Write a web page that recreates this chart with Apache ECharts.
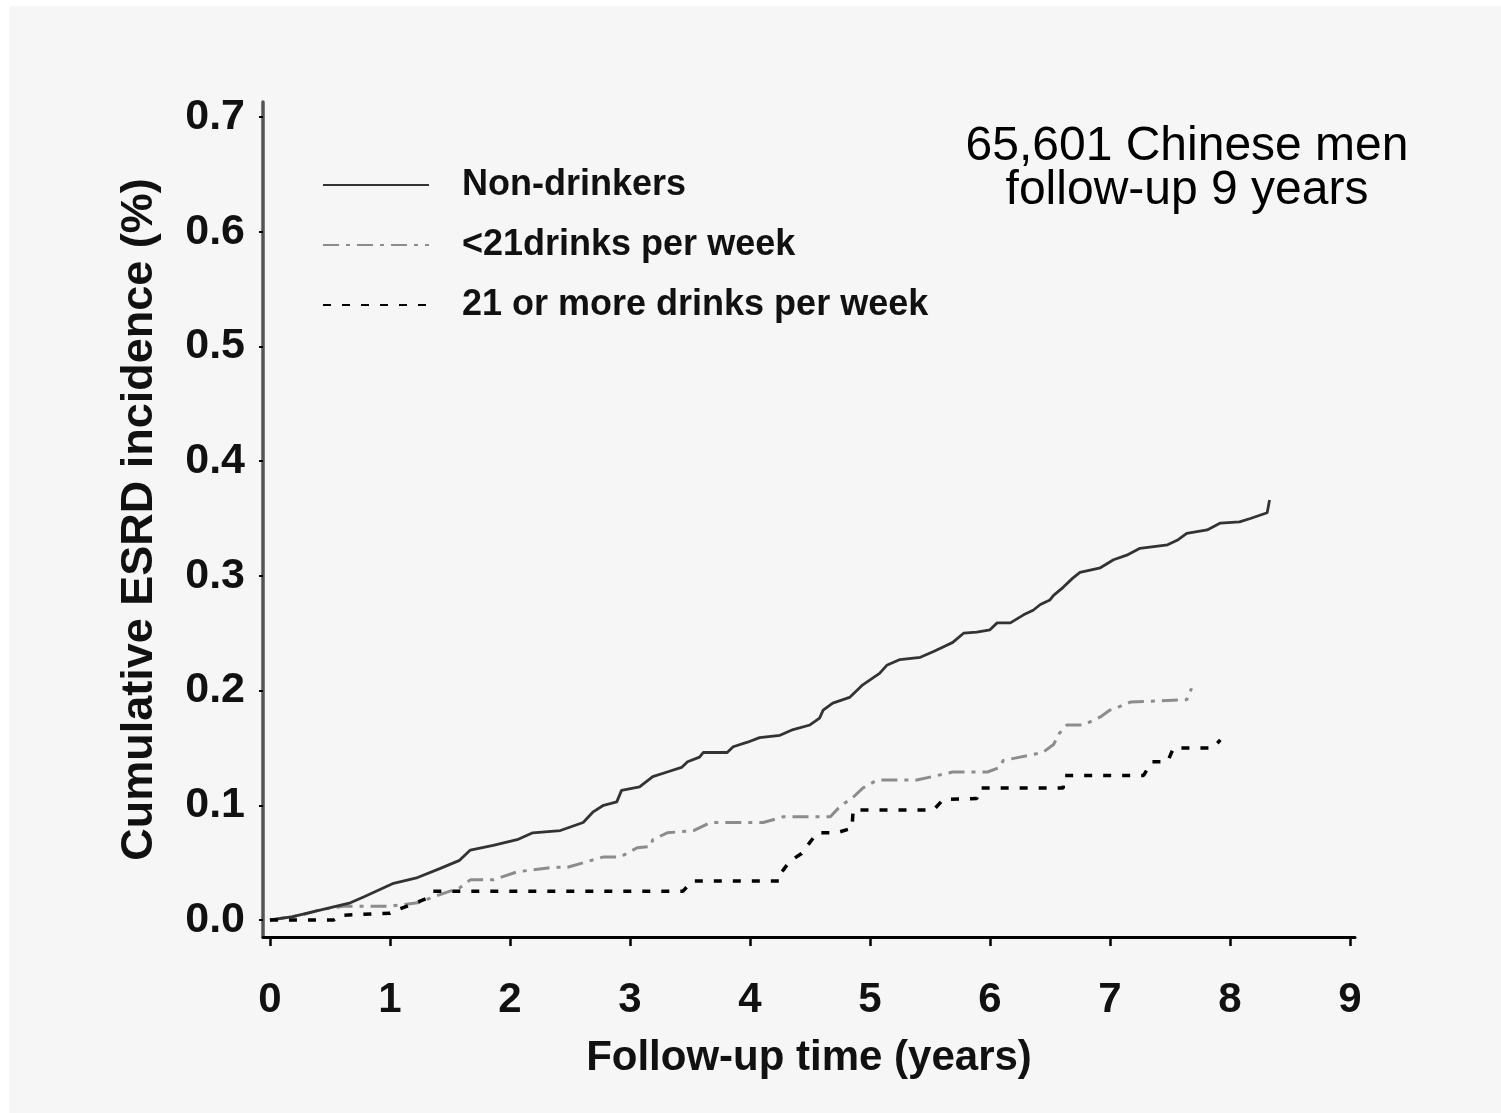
<!DOCTYPE html>
<html>
<head>
<meta charset="utf-8">
<script src="https://cdn.jsdelivr.net/npm/echarts@6/dist/echarts.min.js"></script>
<style>
html,body{margin:0;padding:0;background:#fff;}
#chart{position:absolute;left:0;top:0;width:1501px;height:1113px;
background:linear-gradient(#fff,#fff) top left/100% 6px no-repeat,linear-gradient(#fff,#fff) top left/9px 100% no-repeat,#f6f6f6;}
</style>
</head>
<body>
<div id="chart"></div>
<script>
// Tick labels
const xTicks = [0, 1, 2, 3, 4, 5, 6, 7, 8, 9];
const yTicks = [0, 0.1, 0.2, 0.3, 0.4, 0.5, 0.6, 0.7];
const seriesNames = ['Non-drinkers', '<21drinks per week', '21 or more drinks per week'];

// [years, cumulative incidence %]
const nonDrinkers = [
  [0,0],[0.19,0.003],[0.67,0.015],[0.78,0.020],[1.03,0.032],[1.23,0.037],[1.42,0.045],[1.58,0.052],
  [1.67,0.061],[1.86,0.065],[2.06,0.070],[2.19,0.076],[2.42,0.078],[2.61,0.085],[2.69,0.094],[2.78,0.100],
  [2.89,0.103],[2.93,0.113],[3.08,0.116],[3.19,0.125],[3.31,0.129],[3.43,0.133],[3.48,0.138],[3.58,0.142],
  [3.61,0.146],[3.81,0.146],[3.86,0.151],[3.98,0.155],[4.08,0.159],[4.25,0.161],[4.36,0.166],[4.50,0.170],
  [4.58,0.176],[4.61,0.183],[4.69,0.189],[4.83,0.194],[4.94,0.205],[5.08,0.215],[5.14,0.222],[5.25,0.227],
  [5.42,0.229],[5.53,0.234],[5.61,0.238],[5.69,0.242],[5.78,0.250],[5.89,0.251],[6.00,0.253],[6.06,0.259],
  [6.17,0.259],[6.28,0.266],[6.36,0.270],[6.42,0.275],[6.50,0.279],[6.53,0.283],[6.61,0.290],[6.69,0.298],
  [6.75,0.303],[6.92,0.307],[7.03,0.314],[7.14,0.318],[7.25,0.324],[7.48,0.327],[7.56,0.331],[7.64,0.337],
  [7.81,0.340],[7.92,0.346],[8.08,0.347],[8.17,0.350],[8.31,0.355],[8.33,0.366]
];
const lightDrinkers = [
  [0,0],[0.25,0.004],[0.42,0.009],[0.61,0.012],[1.00,0.012],[1.23,0.015],[1.36,0.020],[1.58,0.028],
  [1.67,0.035],[1.86,0.035],[2.06,0.042],[2.36,0.046],[2.48,0.046],[2.78,0.055],[2.92,0.055],[3.06,0.063],
  [3.17,0.064],[3.19,0.070],[3.31,0.076],[3.53,0.078],[3.67,0.085],[4.11,0.085],[4.28,0.090],[4.67,0.090],
  [4.75,0.099],[4.86,0.107],[4.94,0.115],[5.06,0.122],[5.39,0.122],[5.69,0.129],[5.98,0.129],[6.08,0.133],
  [6.11,0.139],[6.25,0.142],[6.44,0.146],[6.53,0.153],[6.58,0.163],[6.64,0.170],[6.78,0.170],[6.92,0.177],
  [7.00,0.183],[7.08,0.186],[7.17,0.190],[7.64,0.192],[7.68,0.202]
];
const heavyDrinkers = [
  [0,0],[0.53,0],[0.58,0.004],[1.00,0.006],[1.06,0.009],[1.17,0.013],[1.31,0.019],[1.36,0.025],
  [3.44,0.025],[3.52,0.034],[4.25,0.034],[4.26,0.041],[4.33,0.051],[4.43,0.058],[4.48,0.065],[4.56,0.076],
  [4.72,0.076],[4.85,0.080],[4.86,0.096],[5.53,0.096],[5.61,0.105],[5.89,0.106],[5.92,0.115],[6.61,0.115],
  [6.62,0.126],[7.28,0.126],[7.35,0.138],[7.48,0.138],[7.53,0.150],[7.86,0.150],[7.92,0.157]
];
const noteLines = ['65,601 Chinese men', 'follow-up 9 years'];

const FONT = '"Liberation Sans", Arial, sans-serif';
const chart = echarts.init(document.getElementById('chart'), null, {renderer: 'canvas'});
chart.setOption({
  animation: false,
  backgroundColor: 'transparent',
  textStyle: {fontFamily: FONT},
  grid: {left: 263, top: 102, width: 1092, height: 835, containLabel: false, outerBoundsMode: 'none'},
  legend: {
    orient: 'vertical', left: 322, top: 165, padding: 0, itemWidth: 106, itemHeight: 20, itemGap: 20,
    data: seriesNames,
    itemStyle: {opacity: 0},
    textStyle: {fontFamily: FONT, fontSize: 36, fontWeight: 'bold', color: '#111', lineHeight: 40, padding: [0, 0, 0, 28]},
    selectedMode: false
  },
  graphic: [{
    type: 'text', x: 1187, y: 125,
    style: {text: noteLines.join('\n'), font: '48px ' + FONT, fill: '#000', align: 'center', textAlign: 'center', lineHeight: 44},
    z: 10
  }],
  xAxis: {
    type: 'value', min: -0.058, max: 9.042,
    name: 'Follow-up time (years)', nameLocation: 'middle', nameGap: 100,
    nameTextStyle: {fontFamily: FONT, fontSize: 42, fontWeight: 'bold', color: '#111'},
    axisLine: {show: true, onZero: false, lineStyle: {color: '#000', width: 3}},
    axisTick: {show: true, customValues: xTicks, length: 9, lineStyle: {color: '#000', width: 2.5}},
    axisLabel: {customValues: xTicks, margin: 42, fontFamily: FONT, fontSize: 42, fontWeight: 'bold', color: '#111'},
    splitLine: {show: false}
  },
  yAxis: {
    type: 'value', min: -0.0148, max: 0.713,
    name: 'Cumulative ESRD incidence (%)', nameLocation: 'middle', nameGap: 101, nameRotate: 90,
    nameTextStyle: {fontFamily: FONT, fontSize: 45, fontWeight: 'bold', color: '#111'},
    axisLine: {show: true, onZero: false, lineStyle: {color: '#555', width: 3.5}},
    axisTick: {show: true, customValues: yTicks, length: 4, lineStyle: {color: '#000', width: 2}},
    axisLabel: {customValues: yTicks, margin: 18, fontFamily: FONT, fontSize: 43, fontWeight: 'bold', color: '#111',
      formatter: v => Number(v).toFixed(1)},
    splitLine: {show: false}
  },
  series: [
    {name: seriesNames[0], type: 'line', data: nonDrinkers, symbol: 'none', showSymbol: false, z: 4,
      color: '#333', lineStyle: {color: '#333', width: 2.8, type: 'solid'}},
    {name: seriesNames[1], type: 'line', data: lightDrinkers, symbol: 'none', showSymbol: false, z: 3,
      color: '#8c8c8c', lineStyle: {color: '#8c8c8c', width: 3, type: [16, 7, 4, 7]}},
    {name: seriesNames[2], type: 'line', data: heavyDrinkers, symbol: 'none', showSymbol: false, z: 5,
      color: '#000', lineStyle: {color: '#000', width: 3.5, type: [8, 11]}}
  ]
});
</script>
</body>
</html>
